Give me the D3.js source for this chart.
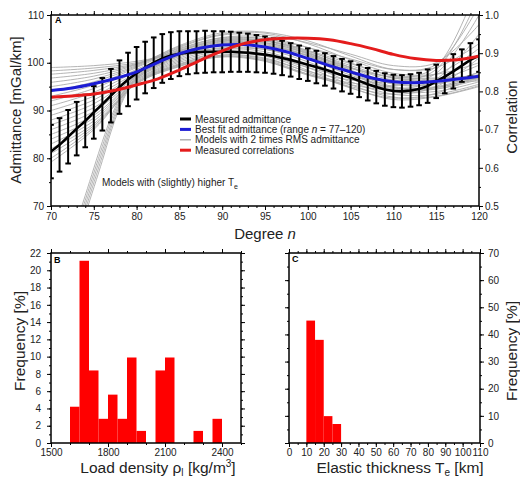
<!DOCTYPE html>
<html><head><meta charset="utf-8">
<script src="https://cdn.jsdelivr.net/npm/d3@7"></script>
<style>
body{margin:0;background:#fff}
svg{display:block}
text{font-family:"Liberation Sans",Arial,Helvetica,sans-serif}
</style>
</head><body>
<svg id="chart" width="520" height="479"></svg>
<script>
// ---------------- DATA ----------------
const measuredDegree = [70,71,72,73,74,75,76,77,78,79,80,81,82,83,84,85,86,87,88,89,90,91,92,93,94,95,96,97,98,99,100,101,102,103,104,105,106,107,108,109,110,111,112,113,114,115,116,117,118,119,120];
const measuredAdmittance = [81.4,82.8,84.5,86.2,87.8,89.6,91.3,93.1,94.9,96.5,97.8,99.0,100.0,100.9,101.5,101.9,102.1,102.2,102.3,102.3,102.3,102.3,102.2,102.1,101.9,101.7,101.4,101.0,100.6,100.1,99.6,99.1,98.6,98.0,97.4,96.9,96.2,95.5,94.9,94.4,94.1,94.0,94.2,94.5,95.1,96.1,97.1,98.2,99.4,100.6,101.5];
const measuredError = [5.6,5.6,5.6,5.6,5.5,5.5,5.5,5.6,5.6,5.6,5.5,5.4,5.3,5.1,4.9,4.7,4.5,4.4,4.4,4.3,4.3,4.2,4.1,4.0,3.9,3.8,3.7,3.6,3.5,3.5,3.4,3.4,3.4,3.4,3.4,3.4,3.4,3.4,3.4,3.4,3.4,3.4,3.4,3.4,3.5,3.5,3.5,3.6,3.4,3.5,3.4];

const fitDegree = [70,72.5,75,77.5,80,82.5,85,87.5,90,92.5,95,97.5,100,102.5,105,107.5,110,112.5,115,117.5,120];
const bestFitAdmittance = [94.2,94.7,95.6,96.7,98.1,100.1,101.9,103.1,103.7,103.8,103.3,102.3,100.9,99.4,98.1,96.8,96.0,95.8,96.1,96.6,97.2];
const measuredCorrelation = [0.785,0.788,0.793,0.803,0.817,0.833,0.856,0.882,0.906,0.925,0.935,0.939,0.939,0.935,0.925,0.912,0.897,0.886,0.881,0.883,0.892];

const modelDegree = [70,75,80,85,90,95,100,105,110,115,120];
const modelAdmittance = [
 [99.0,99.4,100.3,102.0,103.0,102.8,101.0,98.8,97.0,96.8,97.2],
 [98.3,98.9,100.0,102.3,103.8,103.6,101.6,99.0,96.8,96.3,96.6],
 [97.6,98.4,99.8,102.6,104.6,104.6,102.4,99.4,96.8,96.0,96.2],
 [96.8,97.8,99.7,103.0,105.3,105.4,103.2,100.0,97.2,96.6,97.5],
 [95.9,97.2,99.6,103.4,106.0,106.2,104.0,100.6,97.8,97.6,100.0],
 [95.0,96.6,99.4,103.6,106.3,106.4,104.6,101.4,98.6,99.0,104.0],
 [94.0,96.0,99.2,103.2,105.8,105.8,104.2,101.8,99.4,100.0,108.0],
 [93.0,95.3,99.0,102.8,105.2,105.0,103.2,100.8,98.6,99.6,112.0],
 [92.0,94.6,98.6,102.4,104.8,104.6,102.6,99.8,97.4,97.6,103.0],
 [91.0,93.8,98.2,102.0,104.4,104.2,102.0,99.0,96.4,96.4,99.5],
 [90.0,93.0,97.8,101.6,104.0,103.8,101.4,98.2,95.6,95.6,98.0],
 [89.0,92.2,97.5,101.3,103.6,103.3,100.8,97.4,94.8,94.8,97.0],
 [88.0,91.4,97.2,101.0,103.2,102.8,100.2,96.6,94.0,94.0,96.0],
 [87.0,90.6,96.9,100.7,102.8,102.3,99.6,96.0,93.4,93.4,95.5],
 [86.0,89.8,96.6,100.4,102.4,101.9,99.0,95.4,92.8,93.0,95.2],
 [85.0,89.0,96.4,100.1,102.0,101.4,98.4,94.8,92.3,92.9,95.0],
 [84.0,88.4,96.2,99.8,101.6,101.0,98.0,94.7,92.6,93.6,97.5],
 [83.0,87.8,96.0,99.6,101.3,100.6,97.6,95.0,93.4,95.0,101.0],
 [82.0,87.2,95.8,99.4,101.2,100.3,97.4,95.4,94.4,96.6,106.0],
 [81.0,86.8,95.6,99.3,101.4,100.4,97.6,95.8,95.2,97.8,110.0],
 [80.0,86.4,95.6,99.2,101.6,100.8,98.2,96.4,96.0,98.6,114.0],
 [79.2,86.0,95.8,99.6,102.2,101.6,99.0,97.0,96.6,99.2,117.0]
];
const steepDegree = [72,74,76,77,78,79,80,85,90,95,100,105,110,115,120];
const steepAdmittance = [
 [61,72.2,83.5,88.5,92.5,95.5,97.5,102.5,105.0,105.0,102.5,99.0,95.5,95.5,98.0],
 [60,71.2,82.5,87.8,92.0,95.2,97.3,102.3,104.8,104.7,102.2,98.5,95.0,95.0,97.5],
 [59,70.2,81.5,87.0,91.5,94.8,97.0,102.0,104.5,104.5,102.0,98.3,94.8,94.5,96.5],
 [58,69.2,80.5,86.3,91.0,94.5,96.8,101.8,104.2,104.2,101.8,98.0,94.5,94.8,97.0],
 [57,68.2,79.5,85.5,90.5,94.2,96.6,101.5,104.0,104.0,101.5,97.8,94.2,94.5,96.8]
];

const densityBinStart = [1600,1650,1700,1750,1800,1850,1900,1950,2050,2100,2250,2350];
const densityFreq = [4.2,21.1,8.4,2.8,5.6,2.8,9.9,1.4,8.4,9.9,1.4,2.8];
const densityBinWidth = 50;
const teBinStart = [10,15,20,25];
const teFreq = [45.1,38.0,9.9,7.0];
const teBinWidth = 5;

const legendLabels = ["Measured admittance","Best fit admittance","Models with 2 times RMS admittance","Measured correlations"];

// ---------------- STYLE ----------------
const BLUE = "#1c1cd4", RED = "#e41c1c", GRAY = "#ababab", BAR = "#ff0000";
const svg = d3.select("#chart");

function styleAxis(g, fs){
  g.select(".domain").remove();
  g.selectAll("line").attr("stroke","#000").attr("stroke-width",1);
  g.selectAll("text").attr("font-size",fs).attr("fill","#222")
   .attr("font-family",'"Liberation Sans",Arial,Helvetica,sans-serif');
}
function axes(box, xs, ys, o){
  svg.append("g").attr("transform",`translate(0,${box.b})`)
    .call(d3.axisBottom(xs).tickValues(o.xMinor).tickSize(2).tickFormat("")).call(g=>styleAxis(g,10));
  svg.append("g").attr("transform",`translate(0,${box.b})`)
    .call(d3.axisBottom(xs).tickValues(o.xMajor).tickSize(4).tickPadding(o.xPad).tickFormat(o.xFmt)).call(g=>styleAxis(g,o.fs));
  svg.append("g").attr("transform",`translate(0,${box.t})`)
    .call(d3.axisTop(xs).tickValues(o.xMinor).tickSize(2).tickFormat("")).call(g=>styleAxis(g,10));
  svg.append("g").attr("transform",`translate(0,${box.t})`)
    .call(d3.axisTop(xs).tickValues(o.xMajor).tickSize(4).tickFormat("")).call(g=>styleAxis(g,10));
  svg.append("g").attr("transform",`translate(${box.l},0)`)
    .call(d3.axisLeft(o.yl).tickValues(o.ylMinor).tickSize(2).tickFormat("")).call(g=>styleAxis(g,10));
  svg.append("g").attr("transform",`translate(${box.l},0)`)
    .call(d3.axisLeft(o.yl).tickValues(o.ylMajor).tickSize(4).tickPadding(o.ylPad||3).tickFormat(o.ylFmt||"")).call(g=>styleAxis(g,o.fs));
  svg.append("g").attr("transform",`translate(${box.r},0)`)
    .call(d3.axisRight(o.yr).tickValues(o.yrMinor).tickSize(2).tickFormat("")).call(g=>styleAxis(g,10));
  svg.append("g").attr("transform",`translate(${box.r},0)`)
    .call(d3.axisRight(o.yr).tickValues(o.yrMajor).tickSize(4).tickPadding(o.yrPad||2).tickFormat(o.yrFmt||"")).call(g=>styleAxis(g,o.fs));
  svg.append("rect").attr("x",box.l).attr("y",box.t).attr("width",box.r-box.l).attr("height",box.b-box.t)
    .attr("fill","none").attr("stroke","#000").attr("stroke-width",1.5);
}
function panelLabel(x,y,t){
  svg.append("text").attr("x",x).attr("y",y).attr("font-size",9).attr("font-weight","bold").text(t);
}

// ---------------- PANEL A ----------------
const A = {l:51,r:479,t:15,b:206};
const xA = d3.scaleLinear().domain([70,120]).range([A.l,A.r]);
const yA = d3.scaleLinear().domain([70,110]).range([A.b,A.t]);
const yCorr = d3.scaleLinear().domain([0.5,1.0]).range([A.b,A.t]);

svg.append("clipPath").attr("id","clipA").append("rect")
  .attr("x",A.l).attr("y",A.t).attr("width",A.r-A.l).attr("height",A.b-A.t);
const gA = svg.append("g").attr("clip-path","url(#clipA)");

const smooth = d3.line().curve(d3.curveCatmullRom.alpha(0.5));
modelAdmittance.forEach(arr=>{
  gA.append("path").attr("d",smooth(arr.map((v,i)=>[xA(modelDegree[i]),yA(v)])))
    .attr("fill","none").attr("stroke",GRAY).attr("stroke-width",0.9);
});
steepAdmittance.forEach(arr=>{
  gA.append("path").attr("d",smooth(arr.map((v,i)=>[xA(steepDegree[i]),yA(v)])))
    .attr("fill","none").attr("stroke",GRAY).attr("stroke-width",0.9);
});

const eb = gA.append("g").attr("stroke","#000").attr("stroke-width",2);
measuredDegree.forEach((n,i)=>{
  const x = xA(n), y1 = yA(measuredAdmittance[i]+measuredError[i]), y2 = yA(measuredAdmittance[i]-measuredError[i]);
  eb.append("line").attr("x1",x).attr("x2",x).attr("y1",y1).attr("y2",y2);
  eb.append("line").attr("x1",x-2.8).attr("x2",x+2.8).attr("y1",y1).attr("y2",y1);
  eb.append("line").attr("x1",x-2.8).attr("x2",x+2.8).attr("y1",y2).attr("y2",y2);
});
gA.append("path").attr("d",d3.line()(measuredDegree.map((n,i)=>[xA(n),yA(measuredAdmittance[i])])))
  .attr("fill","none").attr("stroke","#000").attr("stroke-width",2.6);
gA.append("path").attr("d",smooth(fitDegree.map((n,i)=>[xA(n),yA(bestFitAdmittance[i])])))
  .attr("fill","none").attr("stroke",BLUE).attr("stroke-width",3);
gA.append("path").attr("d",smooth(fitDegree.map((n,i)=>[xA(n),yCorr(measuredCorrelation[i])])))
  .attr("fill","none").attr("stroke",RED).attr("stroke-width",3);

axes(A, xA, yA, {
  fs:10,
  xMinor:d3.range(70,121,1), xMajor:d3.range(70,121,5), xPad:3, xFmt:d3.format("d"),
  yl:yA, ylMinor:d3.range(70,111,5), ylMajor:d3.range(70,111,10), ylFmt:d3.format("d"), ylPad:3,
  yr:yCorr, yrMinor:[0.55,0.65,0.75,0.85,0.95], yrMajor:[0.5,0.6,0.7,0.8,0.9,1.0], yrFmt:d3.format(".1f"), yrPad:2
});
panelLabel(55,23,"A");

const legColors = ["#000",BLUE,GRAY,RED];
const legWidths = [3,3,1.4,3];
legendLabels.forEach((lab,i)=>{
  const y = 119 + i*10.4;
  svg.append("line").attr("x1",180).attr("x2",191).attr("y1",y).attr("y2",y)
    .attr("stroke",legColors[i]).attr("stroke-width",legWidths[i]);
  const t = svg.append("text").attr("x",195).attr("y",y+3.6).attr("font-size",10).attr("fill","#222");
  if(i===1){
    t.append("tspan").text(lab+" (range ");
    t.append("tspan").attr("font-style","italic").text("n");
    t.append("tspan").text(" = 77\u2013120)");
  } else t.text(lab);
});
const mt = svg.append("text").attr("x",102).attr("y",186).attr("font-size",10).attr("fill","#222");
mt.append("tspan").text("Models with (slightly) higher T");
mt.append("tspan").attr("font-size",7).attr("dy",2.5).text("e");

svg.append("text").attr("transform","translate(21,110) rotate(-90)").attr("text-anchor","middle")
  .attr("font-size",15).attr("fill","#222").text("Admittance [mGal/km]");
svg.append("text").attr("transform","translate(517,117) rotate(-90)").attr("text-anchor","middle")
  .attr("font-size",15).attr("fill","#222").text("Correlation");
const dt = svg.append("text").attr("x",265).attr("y",239).attr("text-anchor","middle").attr("font-size",15).attr("fill","#222");
dt.append("tspan").text("Degree ");
dt.append("tspan").attr("font-style","italic").text("n");

// ---------------- PANEL B ----------------
const B = {l:51,r:241,t:253,b:443};
const xB = d3.scaleLinear().domain([1500,2500]).range([B.l,B.r]);
const yB = d3.scaleLinear().domain([0,22]).range([B.b,B.t]);
svg.append("g").selectAll("rect").data(densityBinStart).join("rect")
  .attr("x",(d)=>xB(d)).attr("width",(d)=>xB(d+densityBinWidth)-xB(d))
  .attr("y",(d,i)=>yB(densityFreq[i])).attr("height",(d,i)=>yB(0)-yB(densityFreq[i]))
  .attr("fill",BAR);
axes(B, xB, yB, {
  fs:10,
  xMinor:d3.range(1500,2501,100), xMajor:[1500,1800,2100,2400], xPad:2, xFmt:d3.format("d"),
  yl:yB, ylMinor:d3.range(0,23,1), ylMajor:d3.range(0,23,2), ylFmt:d3.format("d"), ylPad:6,
  yr:yB, yrMinor:d3.range(0,23,1), yrMajor:d3.range(0,23,2), yrFmt:""
});
panelLabel(54,263,"B");
svg.append("text").attr("transform","translate(25,341) rotate(-90)").attr("text-anchor","middle")
  .attr("font-size",15.5).attr("fill","#222").text("Frequency [%]");
const lb = svg.append("text").attr("x",158).attr("y",473).attr("text-anchor","middle").attr("font-size",15.5).attr("fill","#222");
lb.append("tspan").text("Load density \u03C1");
lb.append("tspan").attr("font-size",10).attr("dy",3).text("l");
lb.append("tspan").attr("dy",-3).text(" [kg/m");
lb.append("tspan").attr("font-size",10).attr("dy",-6).text("3");
lb.append("tspan").attr("dy",6).text("]");

// ---------------- PANEL C ----------------
const C = {l:289,r:480,t:253,b:443};
const xC = d3.scaleLinear().domain([0,110]).range([C.l,C.r]);
const yCf = d3.scaleLinear().domain([0,70]).range([C.b,C.t]);
svg.append("g").selectAll("rect").data(teBinStart).join("rect")
  .attr("x",(d)=>xC(d)).attr("width",(d)=>xC(d+teBinWidth)-xC(d))
  .attr("y",(d,i)=>yCf(teFreq[i])).attr("height",(d,i)=>yCf(0)-yCf(teFreq[i]))
  .attr("fill",BAR);
axes(C, xC, yCf, {
  fs:10,
  xMinor:d3.range(0,111,5), xMajor:d3.range(0,111,10), xPad:2, xFmt:d3.format("d"),
  yl:yCf, ylMinor:d3.range(0,71,5), ylMajor:d3.range(0,71,10), ylFmt:"",
  yr:yCf, yrMinor:d3.range(0,71,5), yrMajor:d3.range(0,71,10), yrFmt:d3.format("d"), yrPad:4
});
panelLabel(292,262,"C");
svg.append("text").attr("transform","translate(517,351) rotate(-90)").attr("text-anchor","middle")
  .attr("font-size",15.5).attr("fill","#222").text("Frequency [%]");
const et = svg.append("text").attr("x",400).attr("y",473).attr("text-anchor","middle").attr("font-size",15.5).attr("fill","#222");
et.append("tspan").text("Elastic thickness T");
et.append("tspan").attr("font-size",10).attr("dy",3).text("e");
et.append("tspan").attr("dy",-3).text(" [km]");
</script>
</body></html>
